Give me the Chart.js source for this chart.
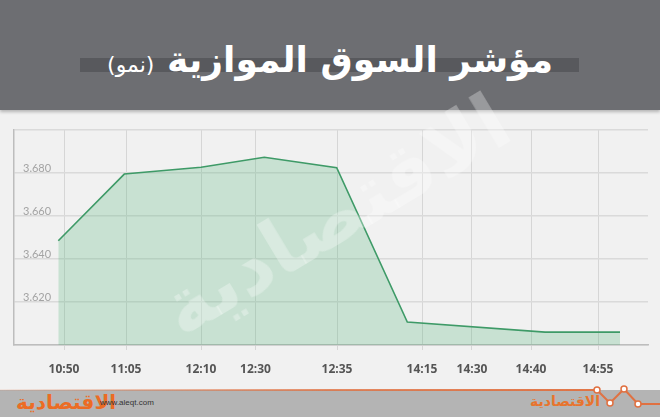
<!DOCTYPE html>
<html>
<head>
<meta charset="utf-8">
<script src="https://cdn.jsdelivr.net/npm/chart.js@4/dist/chart.umd.min.js"></script>
<style>
  html, body { margin: 0; padding: 0; }
  body { width: 660px; height: 417px; position: relative; overflow: hidden; background: #f1f1f1; }
  #head { position: absolute; left: 0; top: 0; width: 660px; height: 110px; background: #6d6e72; box-shadow: 0 2px 3px rgba(0,0,0,0.25); }
  #head .bar { position: absolute; left: 80px; top: 58px; width: 499px; height: 14px; background: #58595d; }
  #head .title { position: absolute; left: 0; top: 30px; width: 660px; line-height: 60px; text-align: center; direction: rtl;
    font-family: "DejaVu Sans", sans-serif; font-weight: bold; font-size: 36px; color: #fff; }
  #head .title span { font-weight: normal; font-size: 22px; }
  #wrap { position: absolute; left: 0; top: 110px; width: 660px; height: 280px; }
  #mark { position: absolute; left: 335px; top: 215px; transform: translate(-50%, -50%) rotate(-31deg);
    font-family: "DejaVu Sans", sans-serif; font-weight: bold; font-size: 78px; color: rgba(255,255,255,0.3);
    white-space: nowrap; direction: rtl; }
  #foot { position: absolute; left: 0; top: 390px; width: 660px; height: 27px; background: #b4b4b4; }
  #foot .l { position: absolute; left: 16px; top: 0px; font-family: "DejaVu Sans", sans-serif; font-weight: bold;
    font-size: 20px; color: #ec6c24; direction: rtl; }
  #foot .w { position: absolute; left: 100px; top: 8px; font-family: "Liberation Sans", sans-serif; font-size: 8px; color: #333; }
  #foot .r { position: absolute; left: 530px; top: 3px; font-family: "DejaVu Sans", sans-serif; font-weight: bold;
    font-size: 14px; color: #e8742e; direction: rtl; }
  svg { position: absolute; left: 0; top: 380px; }
</style>
</head>
<body>
<div id="head"><div class="bar"></div><div class="title">مؤشر السوق الموازية <span>(نمو)</span></div></div>
<div id="wrap"><canvas id="lineChart" width="660" height="280"></canvas></div>
<div id="mark">الاقتصادية</div>
<div id="foot">
  <div class="l">الاقتصادية</div>
  <div class="w">www.aleqt.com</div>
  <div class="r">الاقتصادية</div>
</div>
<svg width="660" height="37">
  <defs>
    <linearGradient id="g" x1="0" x2="1" y1="0" y2="0">
      <stop offset="0" stop-color="#e07040" stop-opacity="0.1"/>
      <stop offset="0.5" stop-color="#e07040" stop-opacity="0.8"/>
      <stop offset="1" stop-color="#e07040" stop-opacity="1"/>
    </linearGradient>
  </defs>
  <polyline points="0,10 597,10 610,23 624,9 638,24 660,24" fill="none" stroke="url(#g)" stroke-width="2"/>
  <g fill="#fff" stroke="#e07040" stroke-width="1.5">
    <circle cx="597" cy="10" r="3"/><circle cx="610" cy="23" r="3"/>
    <circle cx="624" cy="9" r="3"/><circle cx="638" cy="24" r="3"/>
  </g>
</svg>
<script>
// time labels under the axis and where they sit along it (axis runs 0..634)
const tickLabels = ['10:50', '11:05', '12:10', '12:30', '12:35', '14:15', '14:30', '14:40', '14:55'];
const tickPos = [50, 112, 187, 241.5, 323, 408, 458, 517, 584];

// index readings and their position along the axis
const pointPos = [44.3, 110.3, 187, 250.3, 322.7, 393.3, 531, 606];
const indexValues = [3648.5, 3679.5, 3682.7, 3687.3, 3682.5, 3610.7, 3606, 3606];

const yTicks = [3600, 3620, 3640, 3660, 3680, 3700];

document.addEventListener("DOMContentLoaded", () => {
    const ctx = document.getElementById('lineChart').getContext('2d');
    new Chart(ctx, {
        type: 'line',
        data: {
            datasets: [{
                data: pointPos.map((x, i) => ({ x: x, y: indexValues[i] })),
                borderColor: '#3e9a67',
                borderWidth: 1.6,
                backgroundColor: 'rgba(80,180,120,0.25)',
                fill: 'start',
                pointRadius: 0,
                tension: 0
            }]
        },
        options: {
            responsive: false,
            animation: false,
            layout: { padding: { left: 14, right: 12, top: 20, bottom: 0 } },
            plugins: { legend: { display: false }, tooltip: { enabled: false } },
            scales: {
                x: {
                    type: 'linear',
                    min: 0,
                    max: 634,
                    afterBuildTicks: axis => { axis.ticks = tickPos.map(v => ({ value: v })); },
                    afterFit: s => { s.height = 45; },
                    grid: { color: '#d6d6d6', lineWidth: 1, tickLength: 5 },
                    border: { color: '#bdbdbd', width: 1.5 },
                    ticks: {
                        autoSkip: false,
                        maxRotation: 0,
                        padding: 12,
                        color: '#555',
                        font: { family: 'Open Sans', size: 12, weight: 'bold' },
                        callback: (v, i) => tickLabels[i]
                    }
                },
                y: {
                    min: 3600,
                    max: 3700,
                    afterBuildTicks: axis => { axis.ticks = yTicks.map(v => ({ value: v })); },
                    afterFit: s => { s.width = 0; },
                    grid: { color: '#dadada', lineWidth: 1.5, drawTicks: false },
                    border: { color: '#bdbdbd', width: 1.5 },
                    ticks: {
                        mirror: true,
                        padding: 9,
                        labelOffset: -5,
                        color: '#a3a3a3',
                        font: { family: 'Lato', size: 11 },
                        callback: v => (v === 3600 || v === 3700) ? '' : String(v).replace(/(\d)(\d{3})$/, '$1.$2')
                    }
                }
            }
        }
    });
});
</script>
</body>
</html>
